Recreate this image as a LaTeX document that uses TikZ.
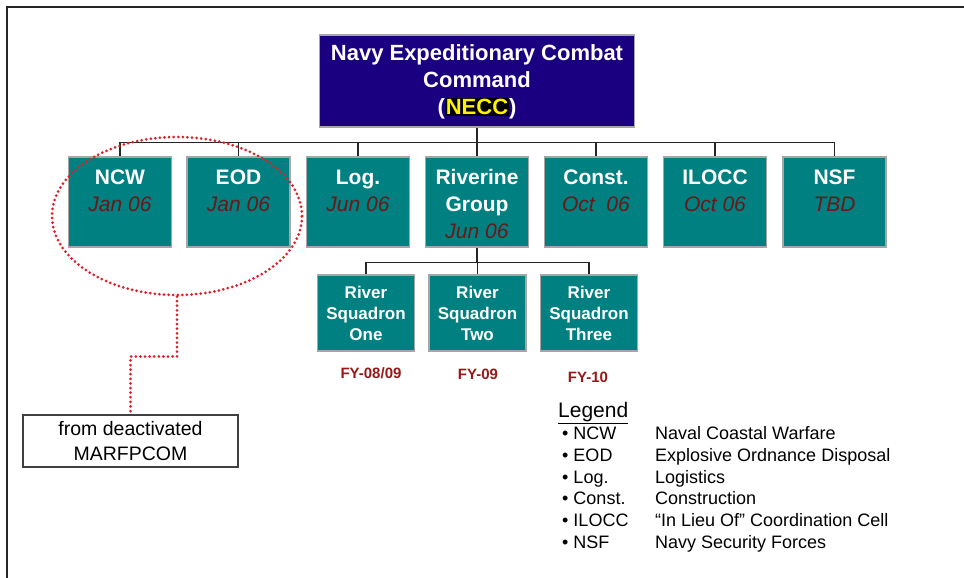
\documentclass[tikz,border=0pt]{standalone}
\usepackage{fontspec}
\setmainfont{Liberation Sans}
\usepackage{xcolor}
\usepackage{tikz}
\usetikzlibrary{shapes.geometric,positioning}
\definecolor{neccblue}{RGB}{26, 0, 128}
\definecolor{unitteal}{RGB}{0, 128, 128}
\definecolor{datered}{RGB}{105, 25, 25}
\definecolor{fyred}{RGB}{150, 25, 25}
\definecolor{dotred}{RGB}{225, 30, 40}
\setlength{\fboxsep}{1pt}
\newcommand{\dt}[1]{{\color{datered}\mdseries\itshape #1}}

\begin{document}
\begin{tikzpicture}[x=1pt, y=-1pt,
    unit/.style={fill=unitteal, draw=gray!70, line width=1.5pt, text=white, align=center,
        font=\fontsize{21}{27}\selectfont\bfseries, minimum width=103pt, minimum height=90pt, inner sep=0pt},
    squad/.style={fill=unitteal, draw=gray!70, line width=1.5pt, text=white, align=center,
        font=\fontsize{17}{21}\selectfont\bfseries, minimum width=97pt, minimum height=76pt, inner sep=0pt},
    fy/.style={text=fyred, font=\fontsize{15}{18}\selectfont\bfseries},
    bus/.style={line width=1.3pt, black!85},
    reddots/.style={dotred, line width=3pt, line cap=round, dash pattern=on 0pt off 4.6pt},
    legtext/.style={anchor=base west, font=\fontsize{18}{22}\selectfont, inner sep=0pt}]
            \useasboundingbox (0,0) rectangle (964,578);
            % Frame
            \draw[line width=2pt, black!85] (7,578) -- (7,7) -- (964,7);

            % Command box
            \node[fill=neccblue, draw=gray!70, line width=1.5pt, text=white, align=center,
                font=\fontsize{22}{27}\selectfont\bfseries, minimum width=315pt, minimum height=92pt,
                inner sep=0pt] (necc) at (477,81)
                {\rule{0pt}{18pt}Navy Expeditionary Combat\\Command\\(\colorbox{black}{\color{yellow}NECC})};

            % Units
            \node[unit] (ncw) at (120,202) {\rule{0pt}{20pt}NCW\\\dt{Jan 06}\\\phantom{Jun 06}};
            \node[unit] (eod) at (238.5,202) {\rule{0pt}{20pt}EOD\\\dt{Jan 06}\\\phantom{Jun 06}};
            \node[unit] (log) at (358,202) {\rule{0pt}{20pt}Log.\\\dt{Jun 06}\\\phantom{Jun 06}};
            \node[unit] (riv) at (477,202) {\rule{0pt}{20pt}Riverine\\Group\\\dt{Jun 06}};
            \node[unit] (con) at (596,202) {\rule{0pt}{20pt}Const.\\\dt{Oct~~06}\\\phantom{Jun 06}};
            \node[unit] (ilocc) at (715,202) {\rule{0pt}{20pt}ILOCC\\\dt{Oct 06}\\\phantom{Jun 06}};
            \node[unit] (nsf) at (834.5,202) {\rule{0pt}{20pt}NSF\\\dt{TBD}\\\phantom{Jun 06}};

            % Squadrons
            \node[squad] (sqone) at (366,313) {River\\Squadron\\One};
            \node[squad] (sqtwo) at (477.5,313) {River\\Squadron\\Two};
            \node[squad] (sqthree) at (589,313) {River\\Squadron\\Three};

            % Fiscal years
            \node[fy] (fyone) at (371,373) {FY-08/09};
            \node[fy] (fytwo) at (478,374) {FY-09};
            \node[fy] (fythree) at (588,377) {FY-10};

            % Connectors
            \foreach \u in {ncw, eod, log, riv, con, ilocc, nsf} {
                \draw[bus] (necc.south) -- ++(0,15) -| (\u.north);
            }
            \foreach \s in {sqone, sqtwo, sqthree} {
                \draw[bus] (riv.south) -- ++(0,15) -| (\s.north);
            }

            % Deactivated units
            \node[ellipse, draw, reddots, minimum width=250pt, minimum height=158pt] (grp) at (177,216) {};
            \node[draw=black!75, line width=1.5pt, align=center, font=\fontsize{19.5}{25}\selectfont,
                minimum width=215pt, minimum height=52pt, inner sep=0pt] (from) at (130.5,441)
                {from deactivated\\MARFPCOM};
            \draw[reddots] (grp.south) -- ++(0,60) -| (from.north);

            % Legend
            \node[anchor=base west, font=\fontsize{21}{24}\selectfont, inner sep=0pt] (leg) at (558,417) {\underline{Legend}};
            \foreach \ab/\txt [count=\i] in {NCW/Naval Coastal Warfare, EOD/Explosive Ordnance Disposal,
                    Log./Logistics, Const./Construction, ILOCC/“In Lieu Of” Coordination Cell,
                    NSF/Navy Security Forces} {
                \node[legtext] (ab\i) at (562,{439.5+21.8*(\i-1)}) {\textbullet\ \ab};
                \node[legtext] (def\i) at (655,{439.5+21.8*(\i-1)}) {\txt};
            }
        \end{tikzpicture}
\end{document}
